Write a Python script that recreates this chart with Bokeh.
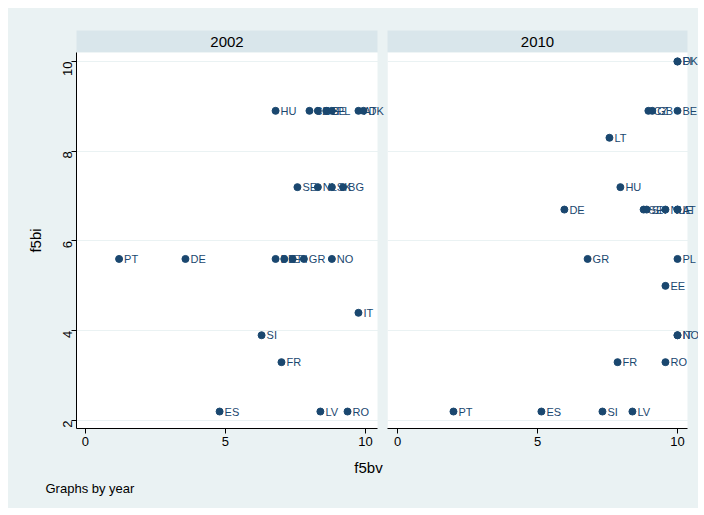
import math
from bokeh.plotting import figure
from bokeh.models import ColumnDataSource, FixedTicker, Label, LabelSet, Range1d, BoxAnnotation
from bokeh.layouts import column, row
from bokeh.embed import file_html
from bokeh.resources import INLINE

BG = "#EAF2F3"
STRIP = "#D9E6EB"
NAVY = "#1A476F"
FONT = "Liberation Sans"

years = ["2002", "2010"]
x_title = "f5bv"
y_title = "f5bi"
note = "Graphs by year"
x_ticks = [0, 5, 10]
y_ticks = [2, 4, 6, 8, 10]

countries_2002 = ["PT", "DE", "HU", "CZ", "GB", "EE", "PL", "AT", "DK",
                  "SE", "NL", "SK", "BG", "BE", "IE", "FI", "GR", "NO",
                  "SI", "FR", "IT", "ES", "LV", "RO"]
f5bv_2002 = [1.2, 3.57, 6.79, 8.0, 8.3, 8.6, 8.8, 9.75, 9.93,
             7.57, 8.3, 8.8, 9.2, 6.79, 7.1, 7.4, 7.8, 8.8,
             6.29, 7.0, 9.75, 4.79, 8.39, 9.36]
f5bi_2002 = [5.6, 5.6, 8.9, 8.9, 8.9, 8.9, 8.9, 8.9, 8.9,
             7.2, 7.2, 7.2, 7.2, 5.6, 5.6, 5.6, 5.6, 5.6,
             3.9, 3.3, 4.4, 2.2, 2.2, 2.2]

countries_2010 = ["DK", "FI", "CZ", "GB", "BE", "LT", "HU", "DE", "SE",
                  "SK", "NL", "IE", "AT", "GR", "PL", "EE", "IT", "NO",
                  "FR", "RO", "PT", "ES", "SI", "LV"]
f5bv_2010 = [10.0, 10.0, 8.96, 9.1, 10.0, 7.57, 7.96, 5.96, 8.79,
             8.9, 9.57, 10.0, 10.0, 6.79, 10.0, 9.57, 10.0, 10.0,
             7.86, 9.57, 2.0, 5.14, 7.32, 8.39]
f5bi_2010 = [10.0, 10.0, 8.9, 8.9, 8.9, 8.3, 7.2, 6.7, 6.7,
             6.7, 6.7, 6.7, 6.7, 5.6, 5.6, 5.0, 3.9, 3.9,
             3.3, 3.3, 2.2, 2.2, 2.2, 2.2]


def header(year, width, mbl, mbr):
    h = figure(width=width, height=44, x_range=Range1d(0, 1), y_range=Range1d(0, 1),
               x_axis_location=None, y_axis_location=None,
               output_backend="svg", toolbar_location=None,
               min_border_left=mbl, min_border_right=mbr,
               min_border_top=22, min_border_bottom=0)
    h.border_fill_color = BG
    h.background_fill_color = STRIP
    h.outline_line_color = None
    h.xgrid.visible = False
    h.ygrid.visible = False
    src = ColumnDataSource(dict(x=[0.5], y=[0.5], t=[year]))
    h.text(x="x", y="y", text="t", source=src, text_align="center",
           text_baseline="middle", text_font_size="15px", text_color="#000000",
           text_font={"value": FONT})
    return h


def panel(xs, ys, labels, width, mbl, region, extra, show_y):
    # region: data extent of the white plot region; extra: overflow room (data units) for labels
    p = figure(width=width, height=402,
               x_range=Range1d(region[0], region[1] + extra), y_range=Range1d(1.822, 10.2),
               output_backend="svg", toolbar_location=None,
               min_border_left=mbl, min_border_right=0,
               min_border_top=0, min_border_bottom=26)
    p.border_fill_color = BG
    p.background_fill_color = BG
    p.outline_line_color = None
    p.add_layout(BoxAnnotation(left=region[0], right=region[1], fill_color="white",
                               fill_alpha=1.0, line_color=None, level="image"))
    p.xgrid.visible = False
    p.ygrid.ticker = FixedTicker(ticks=y_ticks)
    p.ygrid.grid_line_color = BG
    p.ygrid.grid_line_width = 1
    p.ygrid.bounds = (1.822, 10.2)

    ax = p.xaxis[0]
    ax.ticker = FixedTicker(ticks=x_ticks)
    ax.bounds = region
    ax.axis_line_color = "#000000"
    ax.major_tick_line_color = "#000000"
    ax.major_tick_out = 5
    ax.major_tick_in = 0
    ax.minor_tick_out = 0
    ax.minor_tick_in = 0
    ax.major_label_text_font = FONT
    ax.major_label_text_font_size = "13px"
    ax.major_label_text_color = "#000000"
    ax.major_label_standoff = 3

    ay = p.yaxis[0]
    if show_y:
        ay.ticker = FixedTicker(ticks=y_ticks)
        ay.axis_line_color = "#000000"
        ay.major_tick_line_color = "#000000"
        ay.major_tick_out = 5
        ay.major_tick_in = 0
        ay.minor_tick_out = 0
        ay.minor_tick_in = 0
        ay.major_label_text_font = FONT
        ay.major_label_text_font_size = "13px"
        ay.major_label_text_color = "#000000"
        ay.major_label_orientation = math.pi / 2
        ay.major_label_standoff = 4
        ay.axis_label = y_title
        ay.axis_label_text_font = FONT
        ay.axis_label_text_font_size = "15px"
        ay.axis_label_text_font_style = "normal"
        ay.axis_label_text_color = "#000000"
        ay.axis_label_standoff = 12
    else:
        ay.visible = False

    src = ColumnDataSource(dict(x=xs, y=ys, label=labels))
    p.scatter(x="x", y="y", source=src, size=7, fill_color=NAVY, line_color=NAVY)
    p.add_layout(LabelSet(x="x", y="y", text="label", source=src, x_offset=5, y_offset=0,
                          text_baseline="middle", text_font_size="11px",
                          text_color=NAVY, text_font={"value": FONT}))
    return p


h1 = header(years[0], 374, 68, 5)
h2 = header(years[1], 316, 5, 11)
p1 = panel(f5bv_2002, f5bi_2002, countries_2002, 379, 68, (-0.321, 10.43), 10 / 28, True)
p2 = panel(f5bv_2010, f5bi_2010, countries_2010, 311, 0, (-0.357, 10.357), 11 / 28, False)

foot = figure(width=690, height=54, x_range=Range1d(0, 1), y_range=Range1d(0, 1),
              x_axis_location=None, y_axis_location=None,
              output_backend="svg", toolbar_location=None,
              min_border_left=0, min_border_right=0, min_border_top=0, min_border_bottom=0)
foot.border_fill_color = BG
foot.background_fill_color = BG
foot.outline_line_color = None
foot.xgrid.visible = False
foot.ygrid.visible = False
foot.add_layout(Label(x=360, y=41, x_units="screen", y_units="screen", text=x_title,
                      text_align="center", text_baseline="middle", text_font=FONT,
                      text_font_size="15px", text_color="#000000"))
foot.add_layout(Label(x=37, y=20, x_units="screen", y_units="screen", text=note,
                      text_align="left", text_baseline="middle", text_font=FONT,
                      text_font_size="13px", text_color="#000000"))

layout = column(row(h1, h2, styles={"background-color": BG}),
                row(p1, p2, styles={"background-color": BG}),
                foot, margin=(8, 0, 0, 8), styles={"background-color": BG})
open("out.html", "w").write(file_html(layout, INLINE))
